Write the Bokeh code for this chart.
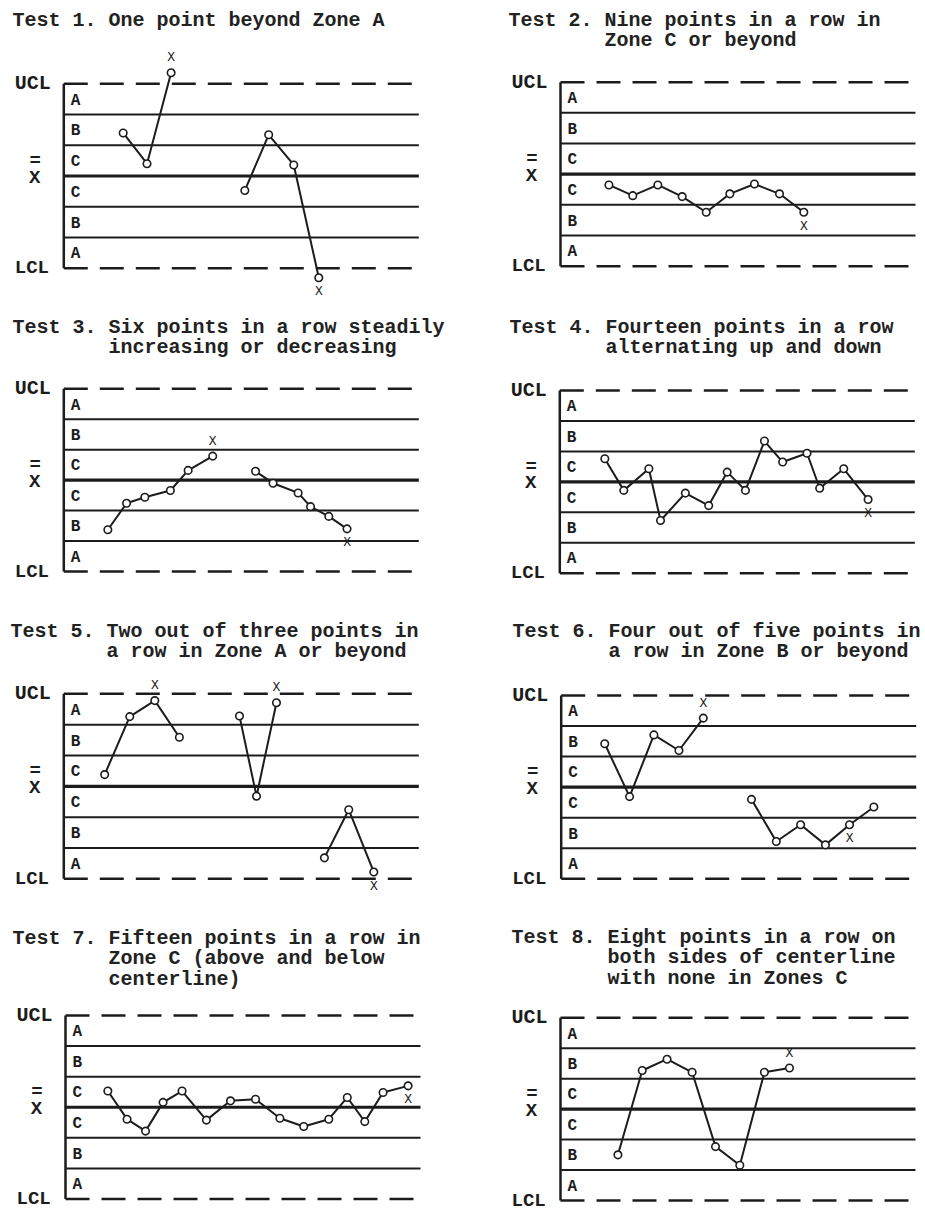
from bokeh.plotting import figure
from bokeh.models import Label, Range1d
from bokeh.layouts import column, row
from bokeh.embed import file_html
from bokeh.resources import INLINE
from bokeh.core.properties import value

# ---------------- data ----------------
zone_bounds = [3, 2, 1, 0, -1, -2, -3]          # UCL ... LCL in sigma units
zone_letters = ["A", "B", "C", "C", "B", "A"]
limit_labels = ["UCL", "LCL"]

titles = [
    ["Test 1. One point beyond Zone A"],
    ["Test 2. Nine points in a row in", "Zone C or beyond"],
    ["Test 3. Six points in a row steadily", "increasing or decreasing"],
    ["Test 4. Fourteen points in a row", "alternating up and down"],
    ["Test 5. Two out of three points in", "a row in Zone A or beyond"],
    ["Test 6. Four out of five points in", "a row in Zone B or beyond"],
    ["Test 7. Fifteen points in a row in", "Zone C (above and below", "centerline)"],
    ["Test 8. Eight points in a row on", "both sides of centerline", "with none in Zones C"],
]

# sample positions (in sample-slot units from the chart's left edge) and values (sigma units)
t1_x = [[2.44, 3.42, 4.41], [7.44, 8.42, 9.45, 10.48]]
t1_y = [[1.40, 0.40, 3.36], [-0.47, 1.34, 0.36, -3.31]]
t2_x = [[1.99, 2.97, 4.00, 5.00, 5.99, 6.96, 7.97, 9.00, 10.00]]
t2_y = [[-0.35, -0.70, -0.35, -0.73, -1.24, -0.64, -0.32, -0.64, -1.24]]
t3_x = [[1.81, 2.58, 3.33, 4.38, 5.11, 6.12], [7.88, 8.60, 9.63, 10.14, 10.89, 11.64]]
t3_y = [[-1.63, -0.76, -0.56, -0.34, 0.32, 0.79], [0.29, -0.10, -0.42, -0.87, -1.19, -1.60]]
t4_x = [[1.85, 2.63, 3.66, 4.14, 5.16, 6.12, 6.88, 7.63, 8.41, 9.16, 10.16, 10.68, 11.67, 12.67]]
t4_y = [[0.76, -0.28, 0.43, -1.27, -0.37, -0.78, 0.32, -0.28, 1.34, 0.65, 0.94, -0.21, 0.43, -0.58]]
t5_x = [[1.68, 2.71, 3.74, 4.75], [7.22, 7.92, 8.74], [10.71, 11.71, 12.74]]
t5_y = [[0.38, 2.26, 2.78, 1.59], [2.28, -0.32, 2.71], [-2.32, -0.76, -2.78]]
t6_x = [[1.79, 2.81, 3.81, 4.84, 5.84], [7.82, 8.84, 9.84, 10.86, 11.85, 12.85]]
t6_y = [[1.42, -0.31, 1.71, 1.20, 2.26], [-0.40, -1.78, -1.23, -1.89, -1.23, -0.65]]
t7_x = [[1.74, 2.53, 3.29, 4.01, 4.79, 5.79, 6.78, 7.81, 8.81, 9.79, 10.82, 11.58, 12.30, 13.05, 14.08]]
t7_y = [[0.53, -0.39, -0.78, 0.16, 0.53, -0.42, 0.21, 0.26, -0.36, -0.63, -0.39, 0.32, -0.47, 0.48, 0.70]]
t8_x = [[2.36, 3.36, 4.38, 5.41, 6.37, 7.37, 8.38, 9.41]]
t8_y = [[-1.50, 1.27, 1.64, 1.21, -1.23, -1.84, 1.21, 1.35]]

# flagged points: (group, index in group, "above"/"below")
t1_flags = [(0, 2, "above"), (1, 3, "below")]
t2_flags = [(0, 8, "below")]
t3_flags = [(0, 5, "above"), (1, 5, "below")]
t4_flags = [(0, 13, "below")]
t5_flags = [(0, 2, "above"), (1, 2, "above"), (2, 2, "below")]
t6_flags = [(0, 4, "above"), (1, 4, "below")]
t7_flags = [(0, 14, "below")]
t8_flags = [(0, 7, "above")]

series_x = [t1_x, t2_x, t3_x, t4_x, t5_x, t6_x, t7_x, t8_x]
series_y = [t1_y, t2_y, t3_y, t4_y, t5_y, t6_y, t7_y, t8_y]
series_flags = [t1_flags, t2_flags, t3_flags, t4_flags, t5_flags, t6_flags, t7_flags, t8_flags]

# ---------------- layout (page pixels) ----------------
SLOT = 73 / 3.0            # px per sample slot
CHART_W = 355 / SLOT       # chart width in slots
INK = "#1c1c1c"
FONT = "Liberation Mono"
# fig_left, fig_top, width, height, chart_left, ucl_y, lcl_y, title_x, title_y
geom = [
    (0,   0,   462, 300, 63.3,  83.3,   267.7,  12,  20),
    (462, 0,   463, 300, 560.0, 81.7,   265.7,  508, 20),
    (0,   300, 462, 305, 63.3,  388.3,  571.0,  12,  327),
    (462, 300, 463, 305, 559.3, 390.0,  572.7,  509, 327),
    (0,   605, 462, 300, 63.3,  693.3,  878.3,  10,  631),
    (462, 605, 463, 300, 560.7, 695.0,  878.3,  512, 631),
    (0,   905, 462, 305, 65.0,  1015.0, 1198.5, 12,  938),
    (462, 905, 463, 305, 560.0, 1017.3, 1200.0, 511, 937),
]
LINE_H = 20.3
CHAR_W = 12.0


def make_panel(i):
    FL, FT, W, H, CL, U, L, TX, TY = geom[i]
    s = 6.0 / (L - U)

    def dx(px):
        return (px - CL) / SLOT

    def dy(py):
        return 3 - (py - U) * s

    p = figure(width=W, height=H, output_backend="svg", toolbar_location=None,
               x_axis_type=None, y_axis_type=None,
               x_range=Range1d(dx(FL), dx(FL + W)), y_range=Range1d(dy(FT + H), dy(FT)),
               min_border=0, min_border_left=0, min_border_right=0,
               min_border_top=0, min_border_bottom=0)
    p.outline_line_color = None
    p.background_fill_color = "white"
    p.border_fill_color = "white"
    p.grid.visible = False

    # zone lines
    for b in zone_bounds:
        if abs(b) == 3:
            p.line([0, CHART_W], [b, b], line_color=INK, line_width=2.5, line_dash="24 12")
        elif b == 0:
            p.line([0, CHART_W], [b, b], line_color=INK, line_width=3.2)
        else:
            p.line([0, CHART_W], [b, b], line_color=INK, line_width=2)
    p.line([0, 0], [zone_bounds[0], zone_bounds[-1]], line_color=INK, line_width=2.5)

    # zone letters
    for k, letter in enumerate(zone_letters):
        yc = (zone_bounds[k] + zone_bounds[k + 1]) / 2.0 - 0.05
        p.add_layout(Label(x=dx(CL + 7), y=yc, text=letter, text_font=FONT,
                           text_font_size="16px", text_font_style="bold",
                           text_baseline="middle", text_align="left", text_color=INK))

    # limit labels
    p.add_layout(Label(x=dx(CL - 49), y=zone_bounds[0], text=limit_labels[0], text_font=FONT,
                       text_font_size="20px", text_font_style="bold",
                       text_baseline="middle", text_align="left", text_color=INK))
    p.add_layout(Label(x=dx(CL - 49), y=zone_bounds[-1], text=limit_labels[1], text_font=FONT,
                       text_font_size="19px", text_font_style="bold",
                       text_baseline="middle", text_align="left", text_color=INK))
    p.add_layout(Label(x=dx(CL - 29), y=-1.5 * s, text="X", text_font=FONT,
                       text_font_size="19px", text_font_style="bold",
                       text_baseline="middle", text_align="center", text_color=INK))
    p.add_layout(Label(x=dx(CL - 28.5), y=15 * s, text="=", text_font=FONT,
                       text_font_size="19px", text_font_style="bold",
                       text_baseline="middle", text_align="center", text_color=INK))

    # title
    for k, line in enumerate(titles[i]):
        x0 = TX if k == 0 else TX + 8 * CHAR_W
        p.add_layout(Label(x=dx(x0), y=dy(TY + k * LINE_H), text=line, text_font=FONT,
                           text_font_size="20px", text_font_style="bold",
                           text_baseline="middle", text_align="left", text_color="#222222"))

    # data
    xs, ys = series_x[i], series_y[i]
    p.multi_line(xs=xs, ys=ys, line_color=INK, line_width=2)
    flat_x = [v for g in xs for v in g]
    flat_y = [v for g in ys for v in g]
    p.scatter(flat_x, flat_y, marker="circle", size=7.5, fill_color="white",
              line_color=INK, line_width=1.6)

    ab_x = [xs[g][j] for g, j, w in series_flags[i] if w == "above"]
    ab_y = [ys[g][j] for g, j, w in series_flags[i] if w == "above"]
    be_x = [xs[g][j] for g, j, w in series_flags[i] if w == "below"]
    be_y = [ys[g][j] for g, j, w in series_flags[i] if w == "below"]
    if ab_x:
        p.text(ab_x, ab_y, text=["X"] * len(ab_x), text_align="center", text_baseline="middle",
               y_offset=-15, text_font=value(FONT), text_font_size="13px", text_color=INK)
    if be_x:
        p.text(be_x, be_y, text=["X"] * len(be_x), text_align="center", text_baseline="middle",
               y_offset=14, text_font=value(FONT), text_font_size="13px", text_color=INK)
    return p


panels = [make_panel(i) for i in range(8)]
layout = column(row(panels[0], panels[1]), row(panels[2], panels[3]),
                row(panels[4], panels[5]), row(panels[6], panels[7]))

open("out.html", "w").write(file_html(layout, INLINE))
